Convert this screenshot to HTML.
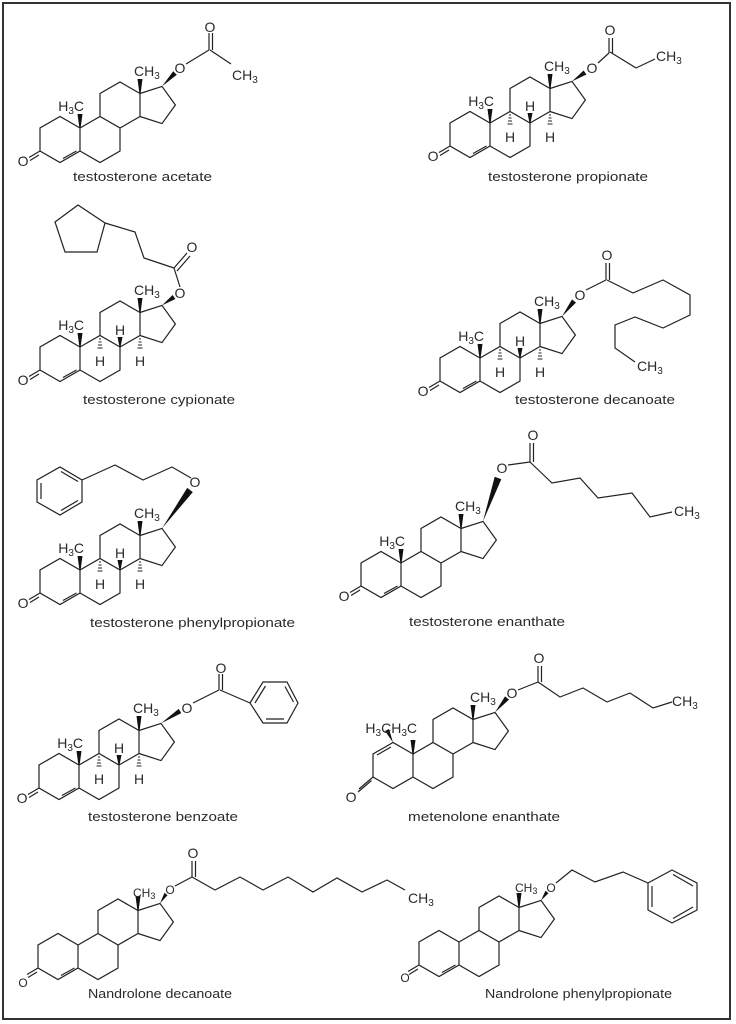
<!DOCTYPE html>
<html><head><meta charset="utf-8"><style>
html,body{margin:0;padding:0;background:#fff;}
svg{display:block;}
text{font-family:"Liberation Sans",sans-serif;fill:#2a2a2a;}
.a{font-size:14px;}
.s{font-size:12px;}
.n{font-size:13px;}
</style></head><body>
<svg width="736" height="1024" viewBox="0 0 736 1024" xmlns="http://www.w3.org/2000/svg">
<defs>
<g id="rings" fill="none" stroke="#222" stroke-width="1.2">
<path d="M0,0 L-20,-11.5 L-40,0 L-40,23 L-20,34.5 L0,23 Z M0,23 L20,34.5 L40,23 L40,0 L20,-11.5 L0,0 M20,-11.5 L20,-34.5 L40,-46 L60,-34.5 L60,-11.5 L40,0 M60,-34.5 L82,-41.6 L95.4,-23 L82,-4.4 L60,-11.5"/>
</g>
<g id="enone" fill="none" stroke="#222" stroke-width="1.2">
<path d="M-40,23 L-51,29.5 M-41,27 L-50,32.5 M-17,30.5 L-3.5,23"/>
</g>
<g id="me13"><polygon points="59.4,-34.5 60.6,-34.5 62.5,-49 57.5,-49" fill="#111"/></g>
<g id="me10"><polygon points="-0.6,0 0.6,0 2.5,-14 -2.5,-14" fill="#111"/></g>
<g id="hs" fill="none" stroke="#222" stroke-width="1">
<path d="M19,-8h2 M18.5,-5h3 M18,-2h4 M17.5,1h5 M59,-8h2 M58.5,-5h3 M58,-2h4 M57.5,1h5"/>
<polygon points="39.5,0 40.5,0 42.5,-10 37.5,-10" fill="#111" stroke="none"/>
</g>
</defs>

<rect x="3" y="3" width="727" height="1016" fill="none" stroke="#333" stroke-width="2"/>

<g fill="none" stroke="#222" stroke-width="1.2">
<!-- 1 acetate -->
<path d="M186,64 L209,50 M209,50 L209,33 M212.5,50 L212.5,33 M210,50 L231,64"/>
<!-- 2 propionate -->
<path d="M598,63 L609,53 M609,53 L609,38 M612.5,53 L612.5,38 M610,52 L636,68 L655,59"/>
<!-- 3 cypionate -->
<path d="M180,287 L174,268 M174,268 L187,253 M177,271 L190,256 M174,268 L144,258 L135,232 L105,223"/>
<polygon points="105,223 78,205 55,222 65,252 97,252"/>
<!-- 4 decanoate -->
<path d="M586,290 L606,280 M606,280 L606,263 M609.5,280 L609.5,263"/>
<polyline points="607,280 633,293 663,280 690,295 690,315 663,328 635,317 615,325 615,348 635,362"/>
<!-- 5 phenylpropionate -->
<polyline points="191,478 172,467 143,480 115,465 82,480"/>
<polygon points="82,480 82,502 60,515 37,502 37,480 60,467"/>
<path d="M41,483 L41,499 M61,471.5 L78,481.5 M61,510.5 L78,500.5"/>
<!-- 6 enanthate -->
<path d="M508,465 L530,462 M530,462 L530,443 M533.5,462 L533.5,443"/>
<polyline points="530,462 552,483 580,478 598,498 632,493 650,517 672,512"/>
<!-- 7 benzoate -->
<path d="M193,703 L219,690 M219,690 L219,674 M222.5,690 L222.5,674 M220,690 L250,703"/>
<polygon points="250,703 263,682 287,682 298,703 287,723 263,723"/>
<path d="M255,703 L265.5,686 M285,686.5 L293.5,702 M266,719 L284,719"/>
<!-- 8 metenolone -->
<path d="M518,690 L538,682 M538,682 L538,666 M541.5,682 L541.5,666"/>
<polyline points="538,682 560,697 583,688 607,702 630,693 653,708 672,702"/>
<!-- 9 nandrolone decanoate -->
<path d="M175,886 L192,877 M192,877 L192,861 M195.5,877 L195.5,861"/>
<polyline points="192,877 215,890 240,877 263,890 288,877 313,892 337,878 362,892 387,880 405,890"/>
<!-- 10 nandrolone phenylpropionate -->
<polyline points="556,883 572,870 595,882 623,872 648,883"/>
<polygon points="648,883 648,910 672,923 697,910 697,883 672,870"/>
<path d="M652,886 L652,907 M673,874.5 L693,886 M673,918.5 L693,907"/>
</g>

<!-- C17 wedges -->
<g fill="#111">
<polygon points="162,86.4 173.2,71.2 176.8,74.8"/>
<polygon points="572,81.4 583.6,70.5 586.4,74.5"/>
<polygon points="162,305.4 172.6,295 175.4,299"/>
<polygon points="562,316.4 572,299.4 576,302.6"/>
<polygon points="162,528.4 187.2,487.9 192.8,492.1"/>
<polygon points="483,521.4 494.7,476.8 501.3,479.2"/>
<polygon points="161,723.4 178.7,708.9 181.3,713.1"/>
<polygon points="495,712.4 505,696.4 509,699.6"/>
<polygon points="160,903.4 164.5,892.8 167.5,895.2"/>
<polygon points="541,900.4 545.5,890.8 548.5,893.2"/>
</g>

<!-- 1 testosterone acetate -->
<g transform="translate(80,128)">
<use href="#rings"/><use href="#enone"/><use href="#me13"/><use href="#me10"/>
<text class="a" x="-57" y="38" text-anchor="middle">O</text>
<text class="a" x="4" y="-17" text-anchor="end">H<tspan font-size="10" dy="3">3</tspan><tspan dy="-3">C</tspan></text>
<text class="a" x="54" y="-52">CH<tspan font-size="10" dy="3">3</tspan></text>
</g>
<text class="a" x="180" y="73" text-anchor="middle">O</text>
<text class="a" x="210" y="32" text-anchor="middle">O</text>
<text class="a" x="232" y="80">CH<tspan font-size="10" dy="3">3</tspan></text>
<text class="n" x="73" y="181" textLength="139" lengthAdjust="spacingAndGlyphs">testosterone acetate</text>

<!-- 2 propionate -->
<g transform="translate(490,123)">
<use href="#rings"/><use href="#enone"/><use href="#me13"/><use href="#me10"/><use href="#hs"/>
<text class="a" x="-57" y="38" text-anchor="middle">O</text>
<text class="a" x="4" y="-17" text-anchor="end">H<tspan font-size="10" dy="3">3</tspan><tspan dy="-3">C</tspan></text>
<text class="a" x="54" y="-52">CH<tspan font-size="10" dy="3">3</tspan></text>
<text class="a" x="20" y="19" text-anchor="middle">H</text>
<text class="a" x="40" y="-12" text-anchor="middle">H</text>
<text class="a" x="60" y="19" text-anchor="middle">H</text>
</g>
<text class="a" x="592" y="73" text-anchor="middle">O</text>
<text class="a" x="610" y="35" text-anchor="middle">O</text>
<text class="a" x="656" y="61">CH<tspan font-size="10" dy="3">3</tspan></text>
<text class="n" x="488" y="181" textLength="160" lengthAdjust="spacingAndGlyphs">testosterone propionate</text>

<!-- 3 cypionate -->
<g transform="translate(80,347)">
<use href="#rings"/><use href="#enone"/><use href="#me13"/><use href="#me10"/><use href="#hs"/>
<text class="a" x="-57" y="38" text-anchor="middle">O</text>
<text class="a" x="4" y="-17" text-anchor="end">H<tspan font-size="10" dy="3">3</tspan><tspan dy="-3">C</tspan></text>
<text class="a" x="54" y="-52">CH<tspan font-size="10" dy="3">3</tspan></text>
<text class="a" x="20" y="19" text-anchor="middle">H</text>
<text class="a" x="40" y="-12" text-anchor="middle">H</text>
<text class="a" x="60" y="19" text-anchor="middle">H</text>
</g>
<text class="a" x="180" y="298" text-anchor="middle">O</text>
<text class="a" x="192" y="252" text-anchor="middle">O</text>
<text class="n" x="83" y="404" textLength="152" lengthAdjust="spacingAndGlyphs">testosterone cypionate</text>

<!-- 4 decanoate -->
<g transform="translate(480,358)">
<use href="#rings"/><use href="#enone"/><use href="#me13"/><use href="#me10"/><use href="#hs"/>
<text class="a" x="-57" y="38" text-anchor="middle">O</text>
<text class="a" x="4" y="-17" text-anchor="end">H<tspan font-size="10" dy="3">3</tspan><tspan dy="-3">C</tspan></text>
<text class="a" x="54" y="-52">CH<tspan font-size="10" dy="3">3</tspan></text>
<text class="a" x="20" y="19" text-anchor="middle">H</text>
<text class="a" x="40" y="-12" text-anchor="middle">H</text>
<text class="a" x="60" y="19" text-anchor="middle">H</text>
</g>
<text class="a" x="580" y="300" text-anchor="middle">O</text>
<text class="a" x="607" y="260" text-anchor="middle">O</text>
<text class="a" x="637" y="371">CH<tspan font-size="10" dy="3">3</tspan></text>
<text class="n" x="515" y="404" textLength="160" lengthAdjust="spacingAndGlyphs">testosterone decanoate</text>

<!-- 5 phenylpropionate -->
<g transform="translate(80,570)">
<use href="#rings"/><use href="#enone"/><use href="#me13"/><use href="#me10"/><use href="#hs"/>
<text class="a" x="-57" y="38" text-anchor="middle">O</text>
<text class="a" x="4" y="-17" text-anchor="end">H<tspan font-size="10" dy="3">3</tspan><tspan dy="-3">C</tspan></text>
<text class="a" x="54" y="-52">CH<tspan font-size="10" dy="3">3</tspan></text>
<text class="a" x="20" y="19" text-anchor="middle">H</text>
<text class="a" x="40" y="-12" text-anchor="middle">H</text>
<text class="a" x="60" y="19" text-anchor="middle">H</text>
</g>
<text class="a" x="195" y="487" text-anchor="middle">O</text>
<text class="n" x="90" y="627" textLength="205" lengthAdjust="spacingAndGlyphs">testosterone phenylpropionate</text>

<!-- 6 enanthate -->
<g transform="translate(401,563)">
<use href="#rings"/><use href="#enone"/><use href="#me13"/><use href="#me10"/>
<text class="a" x="-57" y="38" text-anchor="middle">O</text>
<text class="a" x="4" y="-17" text-anchor="end">H<tspan font-size="10" dy="3">3</tspan><tspan dy="-3">C</tspan></text>
<text class="a" x="54" y="-52">CH<tspan font-size="10" dy="3">3</tspan></text>
</g>
<text class="a" x="502" y="473" text-anchor="middle">O</text>
<text class="a" x="533" y="440" text-anchor="middle">O</text>
<text class="a" x="674" y="516">CH<tspan font-size="10" dy="3">3</tspan></text>
<text class="n" x="409" y="626" textLength="156" lengthAdjust="spacingAndGlyphs">testosterone enanthate</text>

<!-- 7 benzoate -->
<g transform="translate(79,765)">
<use href="#rings"/><use href="#enone"/><use href="#me13"/><use href="#me10"/><use href="#hs"/>
<text class="a" x="-57" y="38" text-anchor="middle">O</text>
<text class="a" x="4" y="-17" text-anchor="end">H<tspan font-size="10" dy="3">3</tspan><tspan dy="-3">C</tspan></text>
<text class="a" x="54" y="-52">CH<tspan font-size="10" dy="3">3</tspan></text>
<text class="a" x="20" y="19" text-anchor="middle">H</text>
<text class="a" x="40" y="-12" text-anchor="middle">H</text>
<text class="a" x="60" y="19" text-anchor="middle">H</text>
</g>
<text class="a" x="187" y="713" text-anchor="middle">O</text>
<text class="a" x="221" y="673" text-anchor="middle">O</text>
<text class="n" x="88" y="821" textLength="150" lengthAdjust="spacingAndGlyphs">testosterone benzoate</text>

<!-- 8 metenolone enanthate -->
<g transform="translate(413,754)">
<use href="#rings"/><use href="#me13"/><use href="#me10"/>
<path d="M-22,-7 L-36,1 M-40,23 L-54,35 M-41.5,26.5 L-55,38" fill="none" stroke="#222" stroke-width="1.2"/>
<polygon points="-20,-11.5 -28,-23 -24,-25" fill="#111"/>
<text class="a" x="-62" y="48" text-anchor="middle">O</text>
<text class="a" x="4" y="-21" text-anchor="end">H<tspan font-size="10" dy="3">3</tspan><tspan dy="-3">CH</tspan><tspan font-size="10" dy="3">3</tspan><tspan dy="-3">C</tspan></text>
<text class="a" x="57" y="-52">CH<tspan font-size="10" dy="3">3</tspan></text>
</g>
<text class="a" x="512" y="698" text-anchor="middle">O</text>
<text class="a" x="539" y="663" text-anchor="middle">O</text>
<text class="a" x="672" y="706">CH<tspan font-size="10" dy="3">3</tspan></text>
<text class="n" x="408" y="821" textLength="152" lengthAdjust="spacingAndGlyphs">metenolone enanthate</text>

<!-- 9 nandrolone decanoate -->
<g transform="translate(78,945)">
<use href="#rings"/><use href="#enone"/><use href="#me13"/>
<text class="s" x="-55" y="42" text-anchor="middle">O</text>
<text class="s" x="55" y="-48">CH<tspan font-size="9" dy="2">3</tspan></text>
</g>
<text class="s" x="170" y="894" text-anchor="middle">O</text>
<text class="a" x="193" y="858" text-anchor="middle">O</text>
<text class="a" x="408" y="903">CH<tspan font-size="10" dy="3">3</tspan></text>
<text class="n" x="88" y="998" textLength="144" lengthAdjust="spacingAndGlyphs">Nandrolone decanoate</text>

<!-- 10 nandrolone phenylpropionate -->
<g transform="translate(459,942)">
<use href="#rings"/><use href="#enone"/><use href="#me13"/>
<text class="s" x="-54" y="40" text-anchor="middle">O</text>
<text class="s" x="56" y="-50">CH<tspan font-size="9" dy="2">3</tspan></text>
</g>
<text class="s" x="551" y="892" text-anchor="middle">O</text>
<text class="n" x="485" y="998" textLength="187" lengthAdjust="spacingAndGlyphs">Nandrolone phenylpropionate</text>
</svg>
</body></html>
